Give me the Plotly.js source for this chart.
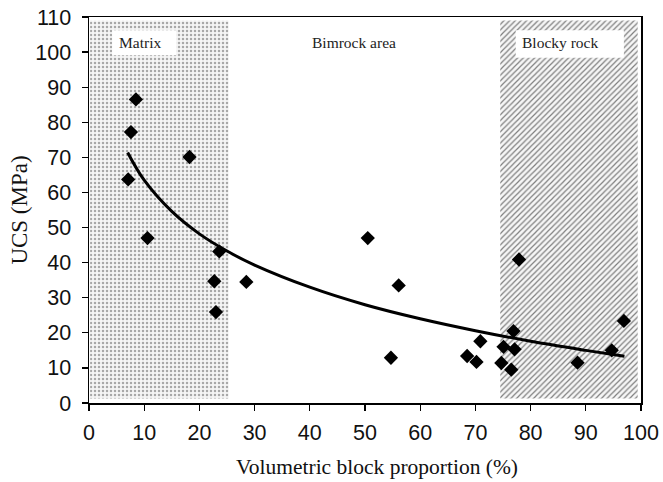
<!DOCTYPE html>
<html>
<head>
<meta charset="utf-8">
<script src="https://cdn.plot.ly/plotly-3.0.1.min.js"></script>
<style>html,body{margin:0;padding:0;background:#fff;}#chart{width:663px;height:482px;}</style>
</head>
<body>
<div id="chart"></div>
<script>
// Measured data points: volumetric block proportion (%) vs UCS (MPa)
const blockProportion = [7.6, 8.5, 18.2, 7.1, 10.6, 23.6, 22.7, 28.5, 23.0, 50.5, 56.1, 54.7, 68.5, 70.2, 70.9, 77.9, 96.9, 76.9, 75.1, 77.1, 74.7, 76.5, 88.5, 94.7];
const ucs = [77.2, 86.5, 70.1, 63.7, 47.0, 43.2, 34.7, 34.5, 25.9, 47.0, 33.5, 12.9, 13.4, 11.7, 17.6, 40.9, 23.4, 20.5, 16.0, 15.3, 11.4, 9.5, 11.5, 15.0];

// Trend curve
const curveX = [7, 10, 15, 20, 25, 30, 40, 50, 60, 70, 80, 90, 97];
const curveY = [71.4, 63.5, 54.6, 48.2, 43.3, 39.3, 33.0, 28.0, 24.0, 20.6, 17.6, 15.0, 13.3];

// Zones
const matrixZoneX = [0.2, 25.3, 25.3, 0.2, 0.2];
const matrixZoneY = [1.3, 1.3, 109, 109, 1.3];
const blockyZoneX = [74.5, 99.4, 99.4, 74.5, 74.5];
const blockyZoneY = [1.3, 1.3, 109, 109, 1.3];

const zoneLabels = ["Matrix", "Bimrock area", "Blocky rock"];
const zoneLabelX = [9.2, 48.0, 85.3];
const zoneLabelY = [102.6, 102.6, 102.6];

const xTicks = [0, 10, 20, 30, 40, 50, 60, 70, 80, 90, 100];
const yTicks = [0, 10, 20, 30, 40, 50, 60, 70, 80, 90, 100, 110];

const traces = [
  {x: matrixZoneX, y: matrixZoneY, type: 'scatter', mode: 'none', fill: 'toself',
   fillcolor: '#f2f2f2',
   fillpattern: {shape: '.', size: 4, solidity: 0.3, fgcolor: '#a8a8a8', bgcolor: '#f5f5f5', fillmode: 'replace'},
   hoverinfo: 'skip', showlegend: false},
  {x: blockyZoneX, y: blockyZoneY, type: 'scatter', mode: 'none', fill: 'toself',
   fillcolor: '#dcdcdc',
   fillpattern: {shape: '/', size: 4, solidity: 0.3, fgcolor: '#7f7f7f', bgcolor: '#f6f6f6', fillmode: 'replace'},
   hoverinfo: 'skip', showlegend: false},
  {x: curveX, y: curveY, type: 'scatter', mode: 'lines',
   line: {color: '#000', width: 3, shape: 'spline'}, showlegend: false},
  {x: blockProportion, y: ucs, type: 'scatter', mode: 'markers',
   marker: {symbol: 'diamond', size: 11, color: '#000'}, showlegend: false}
];

const annotations = zoneLabels.map((t, i) => ({
  x: zoneLabelX[i], y: zoneLabelY[i], xref: 'x', yref: 'y', text: t, showarrow: false,
  font: {family: 'Liberation Serif, Times New Roman, serif', size: 15.5, color: '#222'}
}));
annotations.push({
  x: 0.522, y: -0.165, xref: 'paper', yref: 'paper', xanchor: 'center', yanchor: 'middle',
  text: 'Volumetric block proportion (%)', showarrow: false,
  font: {family: 'Liberation Serif, Times New Roman, serif', size: 21.5, color: '#111'}
});

const layout = {
  width: 663, height: 482,
  margin: {l: 89, r: 22, t: 17, b: 79},
  paper_bgcolor: '#fff', plot_bgcolor: '#fff',
  showlegend: false,
  xaxis: {
    range: [0, 100], tickvals: xTicks, ticktext: xTicks.map(String),
    ticks: 'outside', ticklen: 6, tickwidth: 1.2, tickcolor: '#000',
    showline: true, linecolor: '#000', linewidth: 1.5, mirror: true,
    showgrid: false, zeroline: false, ticklabelstandoff: 4,
    tickfont: {family: 'Liberation Sans, Arial, sans-serif', size: 21.5, color: '#111'}
  },
  yaxis: {
    range: [0, 110], tickvals: yTicks, ticktext: yTicks.map(String),
    ticks: 'outside', ticklen: 6, tickwidth: 1.2, tickcolor: '#000',
    showline: true, linecolor: '#000', linewidth: 1.5, mirror: true,
    showgrid: false, zeroline: false, ticklabelstandoff: 6,
    tickfont: {family: 'Liberation Sans, Arial, sans-serif', size: 21.5, color: '#111'},
    title: {text: 'UCS (MPa)', standoff: 1,
            font: {family: 'Liberation Serif, Times New Roman, serif', size: 23, color: '#111'}}
  },
  shapes: [
    {type: 'rect', xref: 'x', yref: 'y', x0: 4.2, x1: 15.8, y0: 99.1, y1: 106.2,
     fillcolor: '#fff', line: {width: 0}, layer: 'above'},
    {type: 'rect', xref: 'x', yref: 'y', x0: 77.3, x1: 96.9, y0: 98.4, y1: 106.2,
     fillcolor: '#fff', line: {width: 0}, layer: 'above'}
  ],
  annotations: annotations
};

Plotly.newPlot('chart', traces, layout, {displayModeBar: false, staticPlot: true});
</script>
</body>
</html>
